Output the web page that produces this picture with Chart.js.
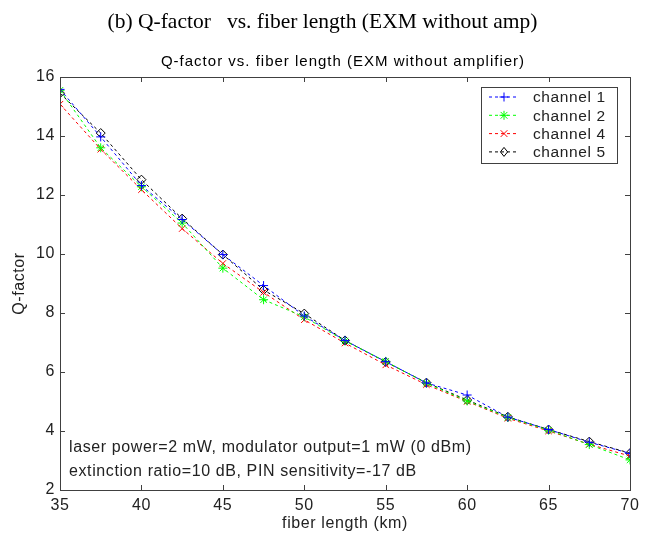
<!DOCTYPE html>
<html>
<head>
<meta charset="utf-8">
<script src="https://cdn.jsdelivr.net/npm/chart.js@4/dist/chart.umd.min.js"></script>
<style>
    html, body { margin: 0; padding: 0; background: #fff; }
    #wrap { position: relative; width: 645px; height: 536px; }
    #heading {
        position: absolute; left: 0; top: 9px; width: 645px; text-align: center;
        font-family: "Liberation Serif", "DejaVu Serif", serif; font-size: 21.5px;
        white-space: pre; color: #000;
    }
    #q-chart { position: absolute; left: 0; top: 0; }
</style>
</head>
<body>
<div id="wrap">
    <canvas id="q-chart" width="645" height="536"></canvas>
    <div id="heading">(b) Q-factor   vs. fiber length (EXM without amp)</div>
</div>
<script>
// fiber length (km)
var lengths = [35, 37.5, 40, 42.5, 45, 47.5, 50, 52.5, 55, 57.5, 60, 62.5, 65, 67.5, 70];
// Q-factor per channel
var channel1 = [15.58, 13.97, 12.32, 11.17, 9.98, 8.93, 7.90, 7.07, 6.35, 5.63, 5.22, 4.47, 4.05, 3.62, 3.24];
var channel2 = [15.55, 13.60, 12.28, 11.05, 9.52, 8.45, 7.87, 7.05, 6.36, 5.62, 5.02, 4.46, 4.03, 3.54, 3.02];
var channel4 = [15.08, 13.55, 12.18, 10.86, 9.68, 8.70, 7.77, 6.98, 6.24, 5.57, 5.00, 4.43, 4.00, 3.55, 3.15];
var channel5 = [15.45, 14.10, 12.52, 11.20, 9.98, 8.78, 7.98, 7.07, 6.34, 5.64, 5.05, 4.48, 4.05, 3.64, 3.25];
var xTicks = [35, 40, 45, 50, 55, 60, 65, 70];
var yTicks = [2, 4, 6, 8, 10, 12, 14, 16];
var seriesNames = ["channel 1", "channel 2", "channel 4", "channel 5"];
var seriesColors = ["#0000ff", "#00ff00", "#ff0000", "#000000"];
var seriesMarkers = ["cross", "star", "crossRot", "rectRot"];
var noteLines = ["laser power=2 mW, modulator output=1 mW (0 dBm)", "extinction ratio=10 dB, PIN sensitivity=-17 dB"];

var sansFont = '"Liberation Sans", Arial, sans-serif';

function toPoints(values){
    var pts = [];
    for(var i = 0; i < lengths.length; i++){
        pts.push({x: lengths[i], y: values[i]});
    }
    return pts;
}

function makeDataset(idx, values){
    return {
        label: seriesNames[idx],
        data: toPoints(values),
        borderColor: seriesColors[idx],
        backgroundColor: seriesColors[idx],
        borderWidth: 1,
        borderDash: [3, 3],
        tension: 0,
        pointStyle: seriesMarkers[idx],
        pointRadius: 4.5,
        pointBorderColor: seriesColors[idx],
        pointBackgroundColor: seriesMarkers[idx] === "rectRot" ? "rgba(255,255,255,0)" : seriesColors[idx],
        pointBorderWidth: 1
    };
}

function drawMarker(ctx, style, x, y, r, color){
    ctx.save();
    ctx.strokeStyle = color;
    ctx.lineWidth = 1;
    ctx.setLineDash([]);
    ctx.beginPath();
    if(style === "cross"){
        ctx.moveTo(x - r, y); ctx.lineTo(x + r, y);
        ctx.moveTo(x, y - r); ctx.lineTo(x, y + r);
    }else if(style === "crossRot"){
        var d = r * 0.75;
        ctx.moveTo(x - d, y - d); ctx.lineTo(x + d, y + d);
        ctx.moveTo(x - d, y + d); ctx.lineTo(x + d, y - d);
    }else if(style === "star"){
        var s = r * 0.75;
        ctx.moveTo(x - r, y); ctx.lineTo(x + r, y);
        ctx.moveTo(x, y - r); ctx.lineTo(x, y + r);
        ctx.moveTo(x - s, y - s); ctx.lineTo(x + s, y + s);
        ctx.moveTo(x - s, y + s); ctx.lineTo(x + s, y - s);
    }else{
        ctx.moveTo(x, y - r); ctx.lineTo(x + r * 0.8, y);
        ctx.lineTo(x, y + r); ctx.lineTo(x - r * 0.8, y);
        ctx.closePath();
    }
    ctx.stroke();
    ctx.restore();
}

// box round the plot with inward ticks on all four sides
var frameBox = {
    id: 'frameBox',
    beforeDraw: function(chart){
        // matlab text runs a bit wider than Arial
        chart.ctx.letterSpacing = "0.6px";
    },
    afterDatasetsDraw: function(chart){
        var ctx = chart.ctx;
        var a = chart.chartArea;
        var xs = chart.scales.x;
        var ys = chart.scales.y;
        var tl = 5;
        ctx.save();
        ctx.strokeStyle = "#404040";
        ctx.lineWidth = 1;
        ctx.setLineDash([]);
        ctx.strokeRect(Math.round(a.left) + 0.5, Math.round(a.top) + 0.5,
            Math.round(a.right - a.left), Math.round(a.bottom - a.top));
        ctx.beginPath();
        for(var i = 0; i < xTicks.length; i++){
            var px = Math.round(xs.getPixelForValue(xTicks[i])) + 0.5;
            ctx.moveTo(px, a.bottom); ctx.lineTo(px, a.bottom - tl);
            ctx.moveTo(px, a.top); ctx.lineTo(px, a.top + tl);
        }
        for(var j = 0; j < yTicks.length; j++){
            var py = Math.round(ys.getPixelForValue(yTicks[j])) + 0.5;
            ctx.moveTo(a.left, py); ctx.lineTo(a.left + tl, py);
            ctx.moveTo(a.right, py); ctx.lineTo(a.right - tl, py);
        }
        ctx.stroke();
        ctx.restore();
    },
    afterDraw: function(chart){
        var ctx = chart.ctx;
        ctx.save();

        // chart title
        ctx.fillStyle = "#000";
        ctx.letterSpacing = "1px";
        ctx.font = "15px " + sansFont;
        ctx.textAlign = "center";
        ctx.textBaseline = "middle";
        ctx.fillText("Q-factor vs. fiber length (EXM without amplifier)", 343, 62);

        // notes in the lower left
        ctx.letterSpacing = "0.6px";
        ctx.font = "16px " + sansFont;
        ctx.textAlign = "left";
        ctx.fillStyle = "#222";
        ctx.fillText(noteLines[0], 69, 448);
        ctx.fillText(noteLines[1], 69, 472);

        // legend
        var lx = 481, ly = 87, lw = 136, lh = 76;
        ctx.fillStyle = "#fff";
        ctx.fillRect(lx, ly, lw, lh);
        ctx.strokeStyle = "#404040";
        ctx.lineWidth = 1;
        ctx.strokeRect(lx + 0.5, ly + 0.5, lw, lh);
        ctx.letterSpacing = "0.6px";
        for(var i = 0; i < seriesNames.length; i++){
            var ey = 97 + i * 18.3;
            ctx.strokeStyle = seriesColors[i];
            ctx.setLineDash([3, 3]);
            ctx.beginPath();
            ctx.moveTo(489, ey); ctx.lineTo(519, ey);
            ctx.stroke();
            ctx.setLineDash([]);
            drawMarker(ctx, seriesMarkers[i], 504, ey, 4.5, seriesColors[i]);
            ctx.fillStyle = "#222";
            ctx.font = "15.5px " + sansFont;
            ctx.textAlign = "left";
            ctx.fillText(seriesNames[i], 533, ey + 1);
        }
        ctx.restore();
    }
};

var chart = new Chart(document.getElementById('q-chart').getContext('2d'), {
    type: 'line',
    data: {
        datasets: [
            makeDataset(0, channel1),
            makeDataset(1, channel2),
            makeDataset(2, channel4),
            makeDataset(3, channel5)
        ]
    },
    options: {
        responsive: false,
        animation: false,
        layout: {padding: {left: 0, top: 77, right: 15, bottom: 0}},
        plugins: {
            legend: {display: false},
            tooltip: {enabled: false}
        },
        scales: {
            x: {
                type: 'linear',
                min: 35,
                max: 70,
                afterBuildTicks: function(scale){
                    scale.ticks = xTicks.map(function(v){ return {value: v}; });
                },
                afterFit: function(scale){ scale.height = 46; },
                grid: {display: false, drawTicks: false},
                border: {display: false},
                ticks: {color: "#222", font: {family: sansFont, size: 16}, padding: 6, maxRotation: 0},
                title: {display: true, text: "fiber length (km)", color: "#222",
                    font: {family: sansFont, size: 16}, padding: {top: 0, bottom: 3}}
            },
            y: {
                min: 2,
                max: 16,
                afterBuildTicks: function(scale){
                    scale.ticks = yTicks.map(function(v){ return {value: v}; });
                },
                afterFit: function(scale){ scale.width = 60; },
                grid: {display: false, drawTicks: false},
                border: {display: false},
                ticks: {color: "#222", font: {family: sansFont, size: 16}, padding: 5},
                title: {display: true, text: "Q-factor", color: "#222",
                    font: {family: sansFont, size: 16}, padding: {top: 10, bottom: 0}}
            }
        }
    },
    plugins: [frameBox]
});
</script>
</body>
</html>
